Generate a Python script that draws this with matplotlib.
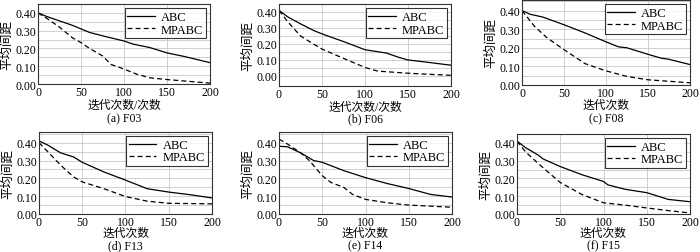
import matplotlib.pyplot as plt
import numpy as np

plt.rcParams['font.family'] = ['Liberation Serif', 'Noto Sans CJK SC']

# Data (iteration, mean distance)
x_a = [0, 10, 25, 40, 50, 60, 80, 100, 110, 130, 150, 170, 200]
abc_a = [0.40, 0.38, 0.355, 0.33, 0.31, 0.29, 0.265, 0.242, 0.225, 0.205, 0.175, 0.155, 0.12]
xm_a = [0, 10, 25, 40, 50, 60, 75, 85, 100, 115, 130, 150, 175, 200]
mp_a = [0.40, 0.37, 0.32, 0.26, 0.233, 0.20, 0.158, 0.11, 0.084, 0.055, 0.035, 0.025, 0.015, 0.005]

x_b = [0, 10, 25, 40, 50, 75, 100, 125, 140, 150, 175, 200]
abc_b = [0.41, 0.37, 0.326, 0.285, 0.263, 0.215, 0.164, 0.143, 0.115, 0.10, 0.084, 0.067]
xm_b = [0, 10, 25, 40, 50, 75, 100, 115, 150, 175, 200]
mp_b = [0.41, 0.34, 0.25, 0.20, 0.168, 0.11, 0.053, 0.03, 0.017, 0.01, 0.004]

x_c = [0, 10, 25, 50, 75, 100, 115, 125, 150, 165, 175, 200]
abc_c = [0.40, 0.38, 0.365, 0.324, 0.28, 0.232, 0.205, 0.20, 0.165, 0.145, 0.138, 0.11]
xm_c = [0, 15, 30, 50, 75, 100, 125, 150, 175, 200]
mp_c = [0.40, 0.315, 0.253, 0.19, 0.115, 0.076, 0.046, 0.028, 0.02, 0.012]

x_d = [0, 10, 25, 40, 50, 75, 100, 125, 150, 175, 200]
abc_d = [0.41, 0.387, 0.343, 0.32, 0.29, 0.236, 0.19, 0.142, 0.123, 0.108, 0.09]
xm_d = [0, 10, 25, 40, 50, 75, 100, 125, 150, 200]
mp_d = [0.40, 0.35, 0.274, 0.208, 0.18, 0.142, 0.098, 0.072, 0.06, 0.057]

x_e = [0, 10, 25, 40, 50, 75, 100, 125, 150, 175, 200]
abc_e = [0.38, 0.377, 0.343, 0.30, 0.29, 0.243, 0.204, 0.171, 0.143, 0.11, 0.095]
xm_e = [0, 10, 25, 35, 50, 60, 75, 85, 100, 125, 150, 200]
mp_e = [0.42, 0.392, 0.343, 0.30, 0.215, 0.177, 0.149, 0.11, 0.082, 0.063, 0.05, 0.038]

x_f = [0, 10, 25, 30, 50, 75, 100, 105, 125, 150, 175, 200]
abc_f = [0.41, 0.373, 0.33, 0.31, 0.267, 0.221, 0.183, 0.164, 0.139, 0.12, 0.082, 0.069]
xm_f = [0, 10, 25, 50, 75, 100, 125, 150, 175, 200]
mp_f = [0.41, 0.349, 0.282, 0.177, 0.11, 0.063, 0.05, 0.034, 0.019, 0.006]

captions = ['(a) F03', '(b) F06', '(c) F08', '(d) F13', '(e) F14', '(f) F15']
xlabels = ['迭代次数/次数', '迭代次数/次数', '迭代次数', '迭代次数', '迭代次数', '迭代次数']
series = [(x_a, abc_a, xm_a, mp_a), (x_b, abc_b, xm_b, mp_b), (x_c, abc_c, xm_c, mp_c),
          (x_d, abc_d, xm_d, mp_d), (x_e, abc_e, xm_e, mp_e), (x_f, abc_f, xm_f, mp_f)]

# pixel boxes: left, top, right, bottom ; ylims
boxes = [(38, 5, 210, 85), (279, 5, 451, 87), (522, 1, 690, 86),
         (39, 133, 212, 215), (279, 133, 452, 215), (517, 135, 690, 215)]
ylims = [(0, 0.45), (-0.063, 0.45), (0, 0.457), (0, 0.46), (0, 0.46), (0, 0.45)]
xlab_y = [106, 108, 106, 234, 234, 234]
cap_y = [119, 119, 119, 246, 246, 246]

W, H = 700, 253
fig = plt.figure(figsize=(7, 2.53), dpi=100)

for i in range(6):
    l, t, r, b = boxes[i]
    ax = fig.add_axes([l / W, 1 - b / H, (r - l) / W, (b - t) / H])
    xs, ya, xm, ym = series[i]
    ax.plot(xs, ya, color='black', lw=0.9, label='ABC')
    ax.plot(xm, ym, color='black', lw=0.9, ls=(0, (4, 2.5)), label='MPABC')
    ax.set_xlim(0, 200)
    ax.set_ylim(*ylims[i])
    ax.set_xticks([0, 50, 100, 150, 200])
    ax.set_yticks([0, 0.1, 0.2, 0.3, 0.4])
    ax.set_yticklabels(['0.00', '0.10', '0.20', '0.30', '0.40'])
    ax.set_yticks(np.arange(0.05, 0.46, 0.1), minor=True)
    ax.grid(True, which='both', color='#c8c8c8', lw=0.6)
    ax.set_axisbelow(True)
    ax.tick_params(which='both', length=0, labelsize=8.5, pad=1.5)
    for s in ax.spines.values():
        s.set_linewidth(0.8)
        s.set_color('#333333')
    ax.set_ylabel('平均间距', fontsize=9, labelpad=1)
    leg = ax.legend(loc='upper right', fontsize=9, frameon=True, fancybox=False,
                    edgecolor='black', handlelength=2.2, borderpad=0.2,
                    labelspacing=0.05, handletextpad=0.5, borderaxespad=0.35)
    leg.get_frame().set_linewidth(0.8)
    cx = (l + r) / 2 / W
    fig.text(cx, 1 - xlab_y[i] / H, xlabels[i], ha='center', va='center', fontsize=8.5)
    fig.text(cx, 1 - cap_y[i] / H, captions[i], ha='center', va='center', fontsize=8.5)

fig.savefig('out.png', dpi=100)
